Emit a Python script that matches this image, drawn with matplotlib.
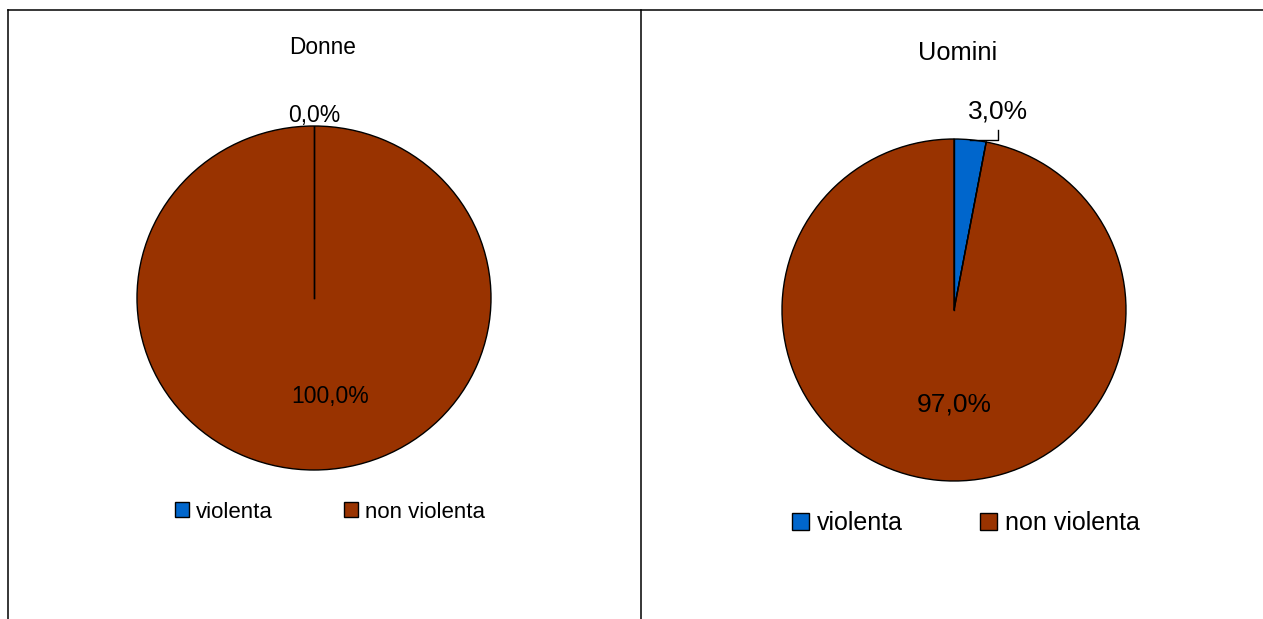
import numpy as np
import matplotlib
matplotlib.use("Agg")
import matplotlib.pyplot as plt
from matplotlib.patches import Patch
from matplotlib.lines import Line2D

plt.rcParams['font.family'] = ['Liberation Sans', 'DejaVu Sans']

categories = ['violenta', 'non violenta']
donne = [0.0, 100.0]
uomini = [3.0, 97.0]
colors = ['#0066CC', '#993300']

W, H = 1263, 619


def fbox(x0, y0, x1, y1):
    # pixel box (top-left origin) -> figure fraction rect
    return [x0 / W, 1 - y1 / H, (x1 - x0) / W, (y1 - y0) / H]


def pct(v):
    return ('%.1f%%' % v).replace('.', ',')


def draw_pie(ax, values, fs, inner_pos, small_pos):
    wedges, _ = ax.pie(values, colors=colors, startangle=90, counterclock=False,
                       wedgeprops=dict(edgecolor='black', linewidth=1.0))
    ax.set_aspect('auto')
    ax.set_xlim(-1, 1)
    ax.set_ylim(-1, 1)
    # radial edges (a full 360 wedge draws none on its own)
    for w in wedges:
        a = np.deg2rad(w.theta1)
        ax.plot([0, np.cos(a)], [0, np.sin(a)], color='black', lw=1.0)
    for w, v in zip(wedges, values):
        mid = np.deg2rad((w.theta1 + w.theta2) / 2)
        if v > 50:
            ax.text(inner_pos[0], inner_pos[1], pct(v),
                    ha='center', va='center', fontsize=fs)
        else:
            px, py = np.cos(mid), np.sin(mid)
            tx, ty = small_pos
            if abs(tx - px) > 0.05:
                ax.plot([px, tx, tx], [py, py, py + 0.055], color='black',
                        lw=1.0, clip_on=False)
            ax.text(tx, ty, pct(v), ha='center', va='center', fontsize=fs)


fig = plt.figure(figsize=(W / 100, H / 100), dpi=100)

# frame lines
for xs, ys in [([8, W], [10, 10]), ([8, 8], [10, H]), ([641, 641], [10, H])]:
    fig.add_artist(Line2D([x / W for x in xs], [1 - y / H for y in ys],
                          color='black', lw=1.1, transform=fig.transFigure))

ax1 = fig.add_axes(fbox(137, 126, 491, 470))
draw_pie(ax1, donne, 16.5, (0.09, -0.575), (0.0, 1.06))
fig.text(323 / W, 1 - 48 / H, 'Donne', ha='center', va='center', fontsize=16.3)

ax2 = fig.add_axes(fbox(782, 139, 1126, 481))
draw_pie(ax2, uomini, 19, (0.0, -0.55), (0.256, 1.163))
fig.text(958 / W, 1 - 53 / H, 'Uomini', ha='center', va='center', fontsize=18.3)

handles = [Patch(facecolor=c, edgecolor='black', linewidth=1.0) for c in colors]
fig.legend(handles, categories, loc='center', ncol=2, frameon=False,
           bbox_to_anchor=(330 / W, 1 - 512 / H), fontsize=16,
           handlelength=0.65, handleheight=0.65, handletextpad=0.3,
           columnspacing=3.2)
fig.legend(handles, categories, loc='center', ncol=2, frameon=False,
           bbox_to_anchor=(966 / W, 1 - 523 / H), fontsize=18,
           handlelength=0.68, handleheight=0.68, handletextpad=0.3,
           columnspacing=3.1)

fig.savefig('out.png', dpi=100)
